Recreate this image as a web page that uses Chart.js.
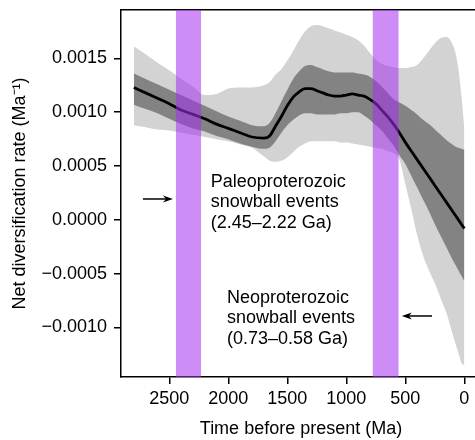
<!DOCTYPE html>
<html><head><meta charset="utf-8">
<script src="https://cdn.jsdelivr.net/npm/chart.js@4.4.1/dist/chart.umd.min.js"></script>
<style>
html,body{margin:0;padding:0;background:#fff;overflow:hidden;}
#wrap{width:481px;height:440px;position:relative;}
</style></head><body>
<div id="wrap"><canvas id="c" width="481" height="440"></canvas></div>
<script>
// ---- data (Ma before present) ----
const ages = [2800,2700,2600,2500,2400,2300,2200,2100,2000,1900,1800,1700,
  1650,1600,1550,1500,1450,1400,1350,1300,1250,1200,1150,1100,1050,1000,950,900,850,800,
  750,700,650,600,550,500,450,400,350,300,250,200,150,100,75,50,25,0];
const meanRate = [0.00123,0.00118,0.00113,0.00108,0.00102,0.00098,0.00094,0.00089,0.00085,0.00081,0.00077,0.00076,
  0.00078,0.00087,0.00096,0.00106,0.00114,0.00119,0.00122,0.00122,0.00120,0.00118,0.00116,0.00115,0.00115,0.00116,0.00117,0.00116,0.00115,0.00112,
  0.00108,0.00102,0.00096,0.00089,0.00081,0.00072,0.00064,0.00056,0.00048,0.00040,0.00032,0.00024,0.00016,0.00008,0.00004,0.00000,-0.00004,-0.00008];
const innerUpper = [0.00136,0.00131,0.00126,0.00121,0.00116,0.00111,0.00106,0.00101,0.00096,0.00092,0.00088,0.00087,
  0.00090,0.00099,0.00110,0.00121,0.00131,0.00138,0.00143,0.00144,0.00142,0.00140,0.00138,0.00137,0.00137,0.00137,0.00137,0.00136,0.00135,0.00133,
  0.00129,0.00124,0.00118,0.00112,0.00109,0.00106,0.00102,0.00098,0.00093,0.00089,0.00084,0.00079,0.00074,0.00070,0.00068,0.00067,0.00066,0.00065];
const innerLower = [0.00107,0.00103,0.00099,0.00094,0.00089,0.00085,0.00082,0.00078,0.00075,0.00071,0.00068,0.00066,
  0.00067,0.00073,0.00081,0.00088,0.00093,0.00097,0.00099,0.00099,0.00098,0.00098,0.00098,0.00098,0.00099,0.00099,0.00100,0.00100,0.00097,0.00093,
  0.00088,0.00083,0.00076,0.00069,0.00060,0.00052,0.00041,0.00030,0.00019,0.00008,-0.00004,-0.00015,-0.00026,-0.00037,-0.00042,-0.00047,-0.00052,-0.00057];
const outerUpper = [0.00161,0.00154,0.00146,0.00139,0.00131,0.00124,0.00116,0.00117,0.00122,0.00123,0.00123,0.00125,
  0.00128,0.00135,0.00140,0.00148,0.00157,0.00167,0.00175,0.00180,0.00181,0.00180,0.00178,0.00176,0.00174,0.00172,0.00170,0.00167,0.00162,0.00155,
  0.00149,0.00145,0.00143,0.00142,0.00141,0.00141,0.00142,0.00144,0.00150,0.00157,0.00164,0.00169,0.00170,0.00163,0.00155,0.00140,0.00115,0.00085];
const outerLower = [0.00088,0.00086,0.00084,0.00083,0.00081,0.00079,0.00077,0.00075,0.00073,0.00070,0.00067,0.00059,
  0.00055,0.00054,0.00055,0.00058,0.00063,0.00068,0.00071,0.00073,0.00073,0.00073,0.00073,0.00073,0.00072,0.00072,0.00071,0.00070,0.00069,0.00068,
  0.00067,0.00066,0.00064,0.00062,0.00056,0.00033,0.00010,-0.00014,-0.00033,-0.00047,-0.00059,-0.00073,-0.00087,-0.00106,-0.00115,-0.00124,-0.00133,-0.00135];
const paleoEvent = [2445, 2230];
const neoEvent = [778, 556];
const xTickValues = [2500, 2000, 1500, 1000, 500, 0];
const xTickLabels = ['2500', '2000', '1500', '1000', '500', '0'];
const yTickValues = [0.0015, 0.0010, 0.0005, 0, -0.0005, -0.0010];
const yTickLabels = ['0.0015', '0.0010', '0.0005', '0.0000', '\u22120.0005', '\u22120.0010'];
const paleoText = ['Paleoproterozoic', 'snowball events', '(2.45\u20132.22 Ga)'];
const neoText = ['Neoproterozoic', 'snowball events', '(0.73\u20130.58 Ga)'];

// ---- chart ----
const X_MIN = -141, X_MAX = 2909, Y_MIN = -0.00146, Y_MAX = 0.00195;
const FAM = "'Liberation Sans', Arial, Helvetica, sans-serif";
const FONT = {family: FAM, size: 18, lineHeight: 1.2};
const PURPLE = 'rgba(165,45,238,0.55)';
const pts = arr => ages.map((a, i) => ({x: a, y: arr[i]}));
const bandPts = (ev, yv) => ev.map(a => ({x: a, y: yv}));
const hidden = {borderColor: 'rgba(0,0,0,0)', borderWidth: 0, pointRadius: 0, cubicInterpolationMode: 'monotone'};
const noPad = s => { s.paddingTop = 0; s.paddingBottom = 0; s.paddingLeft = 0; s.paddingRight = 0; };

function arrow(ctx, x0, y0, x1, y1) {
  const ang = Math.atan2(y1 - y0, x1 - x0);
  const L = 10, W = 3.6, N = 7;
  ctx.beginPath(); ctx.moveTo(x0, y0);
  ctx.lineTo(x1 - Math.cos(ang) * N, y1 - Math.sin(ang) * N); ctx.stroke();
  ctx.beginPath();
  ctx.moveTo(x1, y1);
  ctx.lineTo(x1 - Math.cos(ang) * L - Math.sin(ang) * W, y1 - Math.sin(ang) * L + Math.cos(ang) * W);
  ctx.lineTo(x1 - Math.cos(ang) * N, y1 - Math.sin(ang) * N);
  ctx.lineTo(x1 - Math.cos(ang) * L + Math.sin(ang) * W, y1 - Math.sin(ang) * L - Math.cos(ang) * W);
  ctx.closePath(); ctx.fill();
}

const notes = {
  id: 'notes',
  afterDatasetsDraw(chart) {
    const {ctx, scales: {x, y}} = chart;
    ctx.save();
    ctx.font = '18px ' + FAM;
    ctx.fillStyle = '#000'; ctx.strokeStyle = '#000'; ctx.lineWidth = 1.5;
    ctx.textAlign = 'left'; ctx.textBaseline = 'alphabetic';
    const block = (lines, ma, v) => {
      const px = x.getPixelForValue(ma), py = y.getPixelForValue(v);
      lines.forEach((t, i) => ctx.fillText(t, px, py + i * 20.6));
    };
    block(paleoText, 2149, 0.000309);
    block(neoText, 2011, -0.00077);
    const ay1 = y.getPixelForValue(0.000194);
    arrow(ctx, x.getPixelForValue(2723), ay1, x.getPixelForValue(2469), ay1);
    const ay2 = y.getPixelForValue(-0.000893);
    arrow(ctx, x.getPixelForValue(274), ay2, x.getPixelForValue(530), ay2);
    ctx.restore();
  }
};

new Chart(document.getElementById('c'), {
  type: 'line',
  data: {
    datasets: [
      {...hidden, data: pts(outerUpper), fill: false, order: 3},
      {...hidden, data: pts(outerLower), fill: '-1', backgroundColor: '#d3d3d3', order: 3},
      {...hidden, data: pts(innerUpper), fill: false, order: 2},
      {...hidden, data: pts(innerLower), fill: '-1', backgroundColor: '#838383', order: 2},
      {data: pts(meanRate), borderColor: '#000', borderWidth: 2.8, pointRadius: 0, fill: false,
       cubicInterpolationMode: 'monotone', order: 1},
      {...hidden, data: bandPts(paleoEvent, Y_MAX), fill: false, order: 0, cubicInterpolationMode: 'default', tension: 0},
      {...hidden, data: bandPts(paleoEvent, Y_MIN), fill: '-1', backgroundColor: PURPLE, order: 0, cubicInterpolationMode: 'default', tension: 0},
      {...hidden, data: bandPts(neoEvent, Y_MAX), fill: false, order: 0, cubicInterpolationMode: 'default', tension: 0},
      {...hidden, data: bandPts(neoEvent, Y_MIN), fill: '-1', backgroundColor: PURPLE, order: 0, cubicInterpolationMode: 'default', tension: 0}
    ]
  },
  options: {
    responsive: false,
    animation: false,
    devicePixelRatio: 1,
    layout: {padding: 0},
    plugins: {legend: {display: false}, tooltip: {enabled: false}},
    scales: {
      x: {
        type: 'linear', position: 'bottom', min: X_MIN, max: X_MAX, reverse: true,
        afterBuildTicks: s => { s.ticks = xTickValues.map(v => ({value: v})); },
        afterFit: s => { s.height = 63; noPad(s); },
        ticks: {font: FONT, color: '#000', padding: 4, maxRotation: 0, autoSkip: false,
                callback: v => xTickLabels[xTickValues.indexOf(v)]},
        grid: {display: true, drawOnChartArea: false, drawTicks: true, tickLength: 7, color: '#000', lineWidth: 1.5},
        border: {display: true, color: '#000', width: 1.5},
        title: {display: true, text: 'Time before present (Ma)', font: FONT, color: '#000', padding: {top: 0, bottom: 0}}
      },
      x2: {
        type: 'linear', position: 'top', min: X_MIN, max: X_MAX, reverse: true,
        ticks: {display: false}, grid: {display: false},
        border: {display: true, color: '#000', width: 1.5},
        afterFit: s => { s.height = 10; noPad(s); }
      },
      y: {
        type: 'linear', position: 'left', min: Y_MIN, max: Y_MAX,
        afterBuildTicks: s => { s.ticks = yTickValues.map(v => ({value: v})); },
        afterFit: s => { s.width = 121; noPad(s); },
        ticks: {font: FONT, color: '#000', padding: 7,
                callback: v => yTickLabels[yTickValues.indexOf(v)]},
        grid: {display: true, drawOnChartArea: false, drawTicks: true, tickLength: 7, color: '#000', lineWidth: 1.5},
        border: {display: true, color: '#000', width: 1.5},
        title: {display: true, text: 'Net diversification rate (Ma\u207B\u00B9)', font: FONT, color: '#000', padding: {top: 9, bottom: 0}}
      }
    }
  },
  plugins: [notes]
});
</script>
</body></html>
